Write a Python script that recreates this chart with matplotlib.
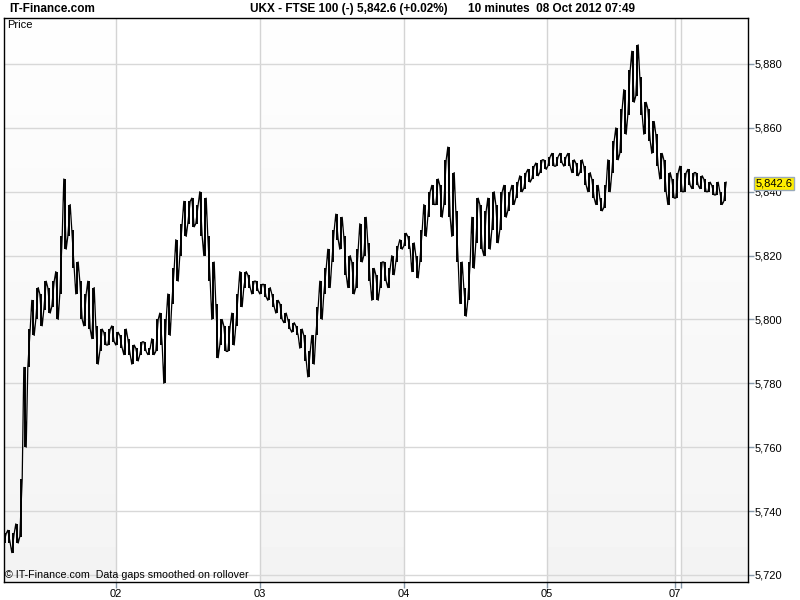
import matplotlib.pyplot as plt
import numpy as np

# 10-minute bars, FTSE 100, 01-08 Oct 2012
high = [5733, 5734, 5733, 5736, 5750, 5785, 5797, 5806, 5810, 5808,
        5812, 5810, 5812, 5815, 5826, 5844, 5836, 5828, 5818, 5812,
        5808, 5812, 5810, 5798, 5797, 5796, 5797, 5798,
        5796, 5795, 5797, 5794, 5792, 5791, 5793, 5793, 5791, 5794,
        5800, 5802, 5800, 5808, 5816, 5825, 5830, 5837, 5837, 5838,
        5836, 5840, 5838, 5826, 5818, 5805, 5800, 5798, 5798, 5802,
        5808, 5815, 5815, 5814, 5812, 5812,
        5811, 5811, 5810, 5808, 5806, 5805, 5802, 5800, 5799, 5798,
        5797, 5795, 5790, 5795, 5804, 5812, 5816, 5822, 5828, 5833,
        5832, 5826, 5820, 5818, 5822, 5830, 5832, 5824, 5816, 5814,
        5818, 5818, 5816, 5820, 5823, 5825,
        5827, 5826, 5824, 5820, 5828, 5836, 5840, 5842, 5844, 5842,
        5850, 5854, 5846, 5834, 5818, 5810, 5818, 5832, 5838, 5836,
        5834, 5838, 5840, 5836, 5840, 5842, 5840, 5842, 5843, 5845,
        5846, 5847, 5848, 5849, 5850, 5850,
        5851, 5852, 5851, 5852, 5851, 5852, 5850, 5849, 5850, 5848,
        5846, 5844, 5842, 5838, 5842, 5850, 5856, 5860, 5866, 5872,
        5878, 5884, 5886, 5876, 5868, 5866, 5862, 5858, 5852, 5850,
        5846, 5844,
        5846, 5848, 5846, 5847, 5846, 5846, 5845, 5844, 5843, 5842,
        5843, 5840, 5843]
low = [5730, 5730, 5727, 5730, 5732, 5760, 5785, 5795, 5800, 5798,
       5803, 5802, 5804, 5800, 5808, 5822, 5826, 5816, 5808, 5800,
       5798, 5797, 5794, 5786, 5790, 5792, 5792, 5793,
       5792, 5791, 5789, 5789, 5786, 5787, 5789, 5790, 5789, 5789,
       5790, 5792, 5780, 5795, 5805, 5812, 5820, 5826, 5830, 5829,
       5830, 5826, 5820, 5812, 5800, 5788, 5792, 5790, 5790, 5792,
       5798, 5804, 5810, 5810, 5808, 5809,
       5808, 5807, 5806, 5804, 5802, 5800, 5799, 5797, 5796, 5795,
       5791, 5787, 5782, 5786, 5795, 5800, 5808, 5810, 5818, 5825,
       5822, 5814, 5810, 5808, 5810, 5818, 5820, 5812, 5806, 5806,
       5810, 5812, 5810, 5814, 5818, 5822,
       5823, 5822, 5815, 5813, 5818, 5826, 5832, 5836, 5836, 5832,
       5836, 5832, 5826, 5818, 5805, 5801, 5806, 5816, 5824, 5822,
       5820, 5822, 5828, 5824, 5828, 5832, 5834, 5836, 5838, 5840,
       5841, 5843, 5844, 5845, 5846, 5847,
       5848, 5848, 5848, 5849, 5848, 5848, 5846, 5845, 5846, 5842,
       5840, 5838, 5836, 5834, 5835, 5840, 5846, 5850, 5852, 5858,
       5864, 5868, 5870, 5864, 5858, 5856, 5852, 5848, 5844, 5840,
       5836, 5838,
       5838, 5840, 5840, 5842, 5841, 5842, 5841, 5840, 5840, 5839,
       5839, 5836, 5837]
last_price = 5842.6

day_ticks = [27.75, 63.75, 99.75, 135.5, 167.5, 169.0]
day_labels = ['02', '03', '04', '05', '07', '']
price_ticks = [5720, 5740, 5760, 5780, 5800, 5820, 5840, 5860, 5880]

plt.rcParams['font.family'] = ['Liberation Sans', 'DejaVu Sans']

n = len(high)
x = np.arange(n)
xmin, xmax = -0.25, 185.75
ymin, ymax = 5717.8, 5894.4

fig = plt.figure(figsize=(8, 6), dpi=100)
ax = fig.add_axes([4/800, 18/600, 744/800, 564/600])

# alternating day shading with a light vertical gradient
grad = np.linspace(0.955, 0.995, 64).reshape(-1, 1)
bands = [(xmin, day_ticks[0]), (day_ticks[1], day_ticks[2]),
         (day_ticks[3], day_ticks[4]), (day_ticks[5], xmax)]
for a, b in bands:
    ax.imshow(grad, cmap='gray', vmin=0, vmax=1, aspect='auto',
              extent=(a, b, ymin, ymax), origin='lower', zorder=0)
ax.set_xlim(xmin, xmax)
ax.set_ylim(ymin, ymax)

for t in day_ticks:
    ax.axvline(t, color='#d4d4d4', lw=1, zorder=1)
for p in price_ticks:
    ax.axhline(p, color='#d8d8d8', lw=1, zorder=1)

# high-low bars plus zigzag to give the dense look
ax.vlines(x, low, high, color='black', lw=1.4, zorder=3)
zx, zy = [], []
for i in range(n):
    a, b = (low[i], high[i]) if i % 2 == 0 else (high[i], low[i])
    zx += [i - 0.3, i + 0.3]
    zy += [a, b]
ax.plot(zx, zy, color='black', lw=0.9, zorder=3)

for s in ax.spines.values():
    s.set_color('black')
    s.set_linewidth(1)

ax.yaxis.tick_right()
ax.set_yticks(price_ticks)
ax.set_yticklabels([f'{p:,}' for p in price_ticks])
ax.set_xticks(day_ticks)
ax.set_xticklabels(day_labels)
ax.tick_params(axis='y', length=4, width=1, color='#8899aa', labelsize=8, pad=1)
ax.tick_params(axis='x', length=4, width=1, color='#8899aa', labelsize=8, pad=1)

ax.text(0.004, 0.996, 'Price', transform=ax.transAxes, fontsize=8,
        ha='left', va='top')
ax.text(0.002, 0.004, '\u00a9 IT-Finance.com  Data gaps smoothed on rollover',
        transform=ax.transAxes, fontsize=7.7, ha='left', va='bottom')

ax.text(1.01, last_price, f'{last_price:,.1f}', transform=ax.get_yaxis_transform(),
        fontsize=8, ha='left', va='center', zorder=5,
        bbox=dict(boxstyle='square,pad=0.15', fc='#ffee00', ec='#99aabb', lw=1))

fig.text(9/800, 1 - 9/600, 'IT-Finance.com', fontsize=8.5, fontweight='bold',
         ha='left', va='center')
fig.text(250/800, 1 - 9/600, 'UKX - FTSE 100 (-)', fontsize=8.5,
         fontweight='bold', ha='left', va='center')
fig.text(357/800, 1 - 9/600, '5,842.6 (+0.02%)', fontsize=8.5,
         fontweight='bold', ha='left', va='center')
fig.text(468/800, 1 - 9/600, '10 minutes  08 Oct 2012 07:49', fontsize=8.5,
         fontweight='bold', ha='left', va='center')

fig.savefig('out.png', dpi=100)
